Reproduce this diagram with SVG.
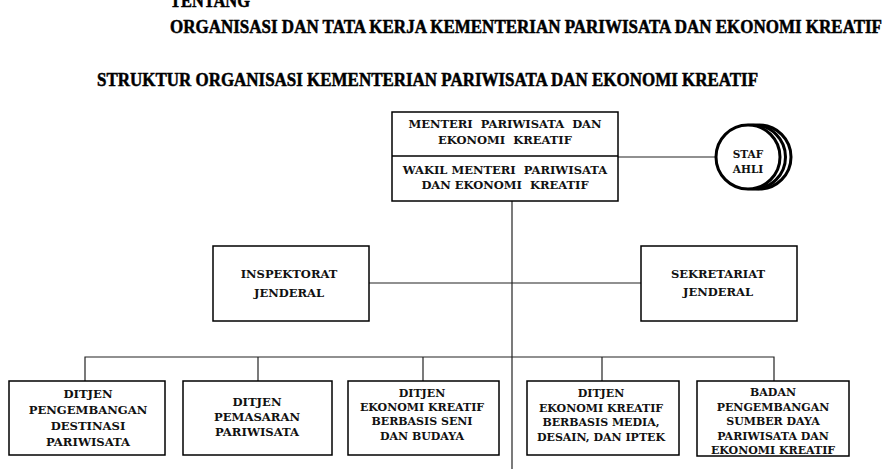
<svg xmlns="http://www.w3.org/2000/svg" width="894" height="469" viewBox="0 0 894 469">
<style>
.bg{fill:#fff}
.box{fill:#fff;stroke:#000;stroke-width:1.5}
.ln{fill:none;stroke:#222;stroke-width:1.2}
.circ{fill:#fff;stroke:#000;stroke-width:3}
.t{font-family:"DejaVu Serif","Liberation Serif",serif;font-weight:bold;fill:#111;text-anchor:middle}
.s12{font-size:11.6px}
.s11{font-size:11.5px}
.s11b{font-size:11px}
.s10{font-size:10.5px}
.h{font-family:"Liberation Serif","DejaVu Serif",serif;font-weight:bold;font-size:18.5px;fill:#000;stroke:#000;stroke-width:0.5}
</style>
<rect class="bg" x="0" y="0" width="894" height="469"/>
<g id="title">
<text class="h" x="170" y="7" textLength="80" lengthAdjust="spacingAndGlyphs">TENTANG</text>
<text class="h" x="170" y="33" textLength="712" lengthAdjust="spacingAndGlyphs">ORGANISASI DAN TATA KERJA KEMENTERIAN PARIWISATA DAN EKONOMI KREATIF</text>
<text class="h" x="97" y="86" textLength="661" lengthAdjust="spacingAndGlyphs">STRUKTUR ORGANISASI KEMENTERIAN PARIWISATA DAN EKONOMI KREATIF</text>
</g>
<g id="connectors">
<line class="ln" x1="618" y1="157" x2="716" y2="157"/>
<line class="ln" x1="512" y1="201" x2="512" y2="469"/>
<line class="ln" x1="369" y1="283" x2="641" y2="283"/>
<polyline class="ln" points="85,381 85,357 774,357 774,381"/>
<line class="ln" x1="258" y1="357" x2="258" y2="381"/>
<line class="ln" x1="423" y1="357" x2="423" y2="381"/>
<line class="ln" x1="602" y1="357" x2="602" y2="381"/>
</g>
<g id="menteri">
<rect class="box" x="392" y="112" width="226" height="89"/>
<line class="box" x1="392" y1="156" x2="618" y2="156"/>
<text class="t s11" x="505" y="128" xml:space="preserve">MENTERI  PARIWISATA  DAN</text>
<text class="t s11" x="505" y="144" xml:space="preserve">EKONOMI  KREATIF</text>
<text class="t s11" x="505" y="174" xml:space="preserve">WAKIL MENTERI  PARIWISATA</text>
<text class="t s11" x="505" y="189" xml:space="preserve">DAN EKONOMI  KREATIF</text>
</g>
<g id="staf-ahli">
<circle class="circ" cx="759" cy="157" r="32"/>
<circle class="circ" cx="753.5" cy="157" r="32"/>
<circle class="circ" cx="748" cy="157" r="32"/>
<text class="t s10" x="748" y="158">STAF</text>
<text class="t s10" x="748" y="173">AHLI</text>
</g>
<g id="inspektorat">
<rect class="box" x="213" y="246" width="156" height="75"/>
<text class="t s11" x="289" y="278">INSPEKTORAT</text>
<text class="t s11" x="289" y="297">JENDERAL</text>
</g>
<g id="sekretariat">
<rect class="box" x="641" y="246" width="156" height="75"/>
<text class="t s11" x="718" y="278">SEKRETARIAT</text>
<text class="t s11" x="718" y="296">JENDERAL</text>
</g>
<g id="ditjen-pdp">
<rect class="box" x="9" y="381" width="156" height="74"/>
<text class="t s12" x="88" y="398">DITJEN</text>
<text class="t s12" x="88" y="414">PENGEMBANGAN</text>
<text class="t s12" x="88" y="430">DESTINASI</text>
<text class="t s12" x="88" y="446">PARIWISATA</text>
</g>
<g id="ditjen-pp">
<rect class="box" x="183" y="381" width="149" height="74"/>
<text class="t s12" x="257" y="406">DITJEN</text>
<text class="t s12" x="257" y="421">PEMASARAN</text>
<text class="t s12" x="257" y="436">PARIWISATA</text>
</g>
<g id="ditjen-eksb">
<rect class="box" x="348" y="381" width="151" height="74"/>
<text class="t s11b" x="422" y="397">DITJEN</text>
<text class="t s11b" x="422" y="411">EKONOMI KREATIF</text>
<text class="t s11b" x="422" y="425">BERBASIS SENI</text>
<text class="t s11b" x="422" y="440">DAN BUDAYA</text>
</g>
<g id="ditjen-ekmd">
<rect class="box" x="527" y="381" width="152" height="74"/>
<text class="t s11b" x="601" y="397">DITJEN</text>
<text class="t s11b" x="601" y="412">EKONOMI KREATIF</text>
<text class="t s11b" x="601" y="426">BERBASIS MEDIA,</text>
<text class="t s11b" x="601" y="441">DESAIN, DAN IPTEK</text>
</g>
<g id="badan">
<rect class="box" x="697" y="381" width="152" height="75"/>
<text class="t s11b" x="773" y="396">BADAN</text>
<text class="t s11b" x="773" y="410.5">PENGEMBANGAN</text>
<text class="t s11b" x="773" y="425">SUMBER DAYA</text>
<text class="t s11b" x="773" y="439.5">PARIWISATA DAN</text>
<text class="t s11b" x="773" y="453.5">EKONOMI KREATIF</text>
</g>
</svg>
